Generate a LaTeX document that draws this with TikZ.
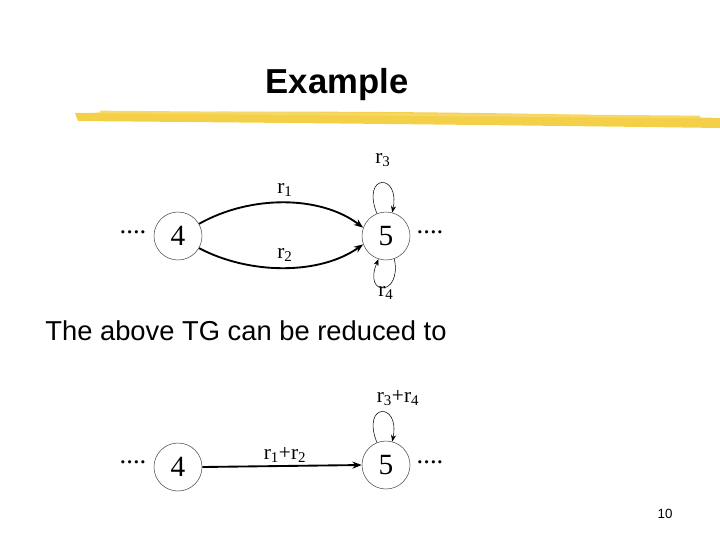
\documentclass[tikz,border=0pt]{standalone}
\usepackage{fontspec}
\setmainfont{Liberation Serif}
\setsansfont{Liberation Sans}
\usetikzlibrary{arrows.meta}
\definecolor{hl}{RGB}{242,200,40}
\begin{document}
\begin{tikzpicture}[x=0.75pt,y=-0.75pt,
  st/.style={circle,draw=black!70,thin,minimum size=36pt,inner sep=0pt,font=\fontsize{22}{22}\selectfont},
  lab/.style={font=\fontsize{16}{16}\selectfont,inner sep=1pt},
  dots/.style={font=\fontsize{20}{20}\selectfont},
  edge/.style={line width=1.4pt,-{Stealth[length=7pt]}},
  lp/.style={thin,-{Stealth[length=5pt]}}]
\useasboundingbox (0,0) rectangle (720,540);
\node[font=\sffamily\bfseries\fontsize{26}{26}\selectfont] (title) at (337,85) {Example};
\fill[hl,opacity=0.85] (75,113) .. controls (300,110) and (500,112) .. (720,118) -- (720,128) .. controls (500,125) and (300,123) .. (78,121) -- cycle;
\draw[hl!70!white,line width=2pt] (100,112) -- (700,117);
% top
\node[st] (a) at (178,236) {4};
\node[st] (b) at (386,236) {5};
\node[dots] (d1) at (133,232) {....};
\node[dots] (d2) at (430,232) {....};
\draw[edge] (a.30) .. controls (250,195) and (320,195) .. (b.160);
\node[lab] (r1) at (285,190) {r\textsubscript{1}};
\draw[edge] (a.-30) .. controls (250,275) and (320,275) .. (b.200);
\node[lab] (r2) at (285,255) {r\textsubscript{2}};
\draw[lp] (b.112) .. controls +(-16,-40) and +(8,-40) .. (b.75);
\node[lab] (r3) at (383,160) {r\textsubscript{3}};
\draw[lp] (b.-70) .. controls +(8,38) and +(-16,38) .. (b.-108);
\node[lab] (r4) at (386,293) {r\textsubscript{4}};
\node[font=\sffamily\fontsize{20.5}{20.5}\selectfont] (txt) at (246,331) {The above TG can be reduced to};
% bottom
\node[st] (c) at (178,467) {4};
\node[st] (e) at (386,465) {5};
\node[dots] (d3) at (133,462) {....};
\node[dots] (d4) at (430,462) {....};
\draw[edge] (c.east) -- (e.west);
\node[lab] (r12) at (285,455) {r\textsubscript{1}+r\textsubscript{2}};
\draw[lp] (e.112) .. controls +(-16,-40) and +(8,-40) .. (e.75);
\node[lab] (r34) at (398,398) {r\textsubscript{3}+r\textsubscript{4}};
\node[font=\sffamily\fontsize{10}{10}\selectfont] (pg) at (665,514) {10};
\end{tikzpicture}
\end{document}
